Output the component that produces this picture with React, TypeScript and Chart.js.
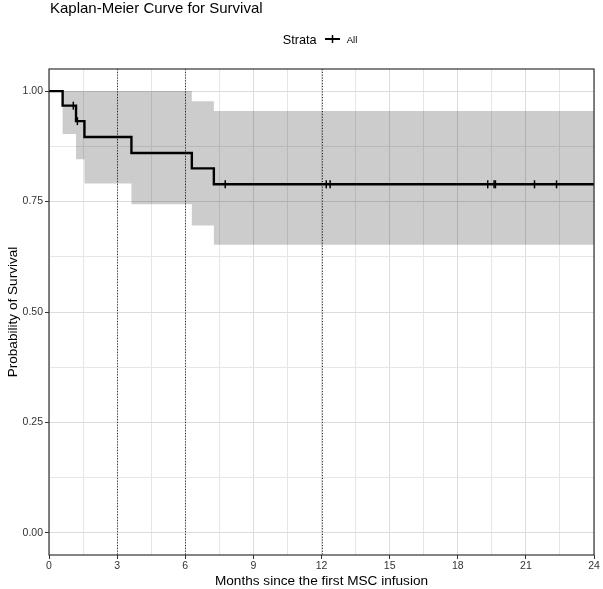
import React, { useEffect, useRef } from 'react';
import { Chart, registerables } from 'chart.js';

Chart.register(...registerables);

// ---- data ----
const stepTimes = [0, 0.6, 1.19, 1.56, 3.63, 6.29, 7.26, 24];
const survival = [1, 0.967, 0.932, 0.896, 0.86, 0.825, 0.789, 0.789];
const upperCI = [1, 1, 1, 1, 1, 0.977, 0.955, 0.955];
const lowerCI = [1, 0.903, 0.846, 0.791, 0.744, 0.696, 0.652, 0.652];
const censorTimes = [1.07, 1.25, 7.76, 12.21, 12.38, 19.32, 19.6, 19.66, 21.38, 22.35];
const xTickLabels = [0, 3, 6, 9, 12, 15, 18, 21, 24];
const yTickLabels = [0, 0.25, 0.5, 0.75, 1];
const refLines = [3, 6, 12];
const chartTitle = 'Kaplan-Meier Curve for Survival';
const xTitle = 'Months since the first MSC infusion';
const yTitle = 'Probability of Survival';
const legendTitle = 'Strata';
const legendLabel = 'All';

const FONT = '"Liberation Sans", Arial, Helvetica, sans-serif';
const MAJOR = '#dcdcdc';
const MINOR = '#e6e6e6';

function withMinors(majors: number[]) {
  const out: number[] = [];
  majors.forEach((v, i) => {
    out.push(v);
    if (i < majors.length - 1) out.push((v + majors[i + 1]) / 2);
  });
  return out;
}
const xAll = withMinors(xTickLabels);
const yAll = withMinors(yTickLabels);

function survAt(t: number) {
  let s = survival[0];
  for (let i = 0; i < stepTimes.length; i++) if (stepTimes[i] <= t) s = survival[i];
  return s;
}

const pts = (ys: number[]) => stepTimes.map((t, i) => ({ x: t, y: ys[i] }));

const decor = {
  id: 'decor',
  beforeDatasetsDraw(chart: any) {
    const { ctx, chartArea: a, scales } = chart;
    ctx.save();
    ctx.strokeStyle = '#333';
    ctx.lineWidth = 1;
    ctx.setLineDash([1.2, 1.6]);
    refLines.forEach((t) => {
      const px = Math.round(scales.x.getPixelForValue(t)) + 0.5;
      ctx.beginPath();
      ctx.moveTo(px, a.top);
      ctx.lineTo(px, a.bottom);
      ctx.stroke();
    });
    ctx.restore();
  },
  afterDraw(chart: any) {
    const { ctx, chartArea: a } = chart;
    ctx.save();
    // panel border
    ctx.strokeStyle = '#333';
    ctx.lineWidth = 1.2;
    ctx.strokeRect(a.left, a.top, a.right - a.left, a.bottom - a.top);
    // title
    ctx.fillStyle = '#000';
    ctx.textBaseline = 'alphabetic';
    ctx.textAlign = 'left';
    ctx.font = `15px ${FONT}`;
    ctx.fillText(chartTitle, 50, 12.5);
    // legend
    ctx.font = `12.7px ${FONT}`;
    ctx.fillText(legendTitle, 282.7, 43.5);
    ctx.strokeStyle = '#000';
    ctx.lineWidth = 2;
    ctx.beginPath();
    ctx.moveTo(325, 39);
    ctx.lineTo(340, 39);
    ctx.stroke();
    ctx.lineWidth = 1.5;
    ctx.beginPath();
    ctx.moveTo(332.5, 35);
    ctx.lineTo(332.5, 43);
    ctx.stroke();
    ctx.font = `9.5px ${FONT}`;
    ctx.fillText(legendLabel, 346.7, 42.5);
    ctx.restore();
  },
};

export default function App() {
  const ref = useRef<HTMLCanvasElement>(null);
  useEffect(() => {
    if (!ref.current) return;
    const chart = new Chart(ref.current, {
      type: 'line',
      data: {
        datasets: [
          {
            label: 'censor',
            data: censorTimes.map((t) => ({ x: t, y: survAt(t) })),
            showLine: false,
            pointStyle: 'line',
            rotation: 90,
            pointRadius: 4,
            pointBorderWidth: 1.5,
            pointBorderColor: '#000',
            pointBackgroundColor: '#000',
          } as any,
          {
            label: 'All',
            data: pts(survival),
            stepped: 'before',
            borderColor: '#000',
            borderWidth: 2.4,
            pointRadius: 0,
            fill: false,
          } as any,
          {
            label: 'upper',
            data: pts(upperCI),
            stepped: 'before',
            borderWidth: 0,
            borderColor: 'rgba(0,0,0,0)',
            backgroundColor: 'rgba(0,0,0,0.2)',
            pointRadius: 0,
            fill: '+1',
          } as any,
          {
            label: 'lower',
            data: pts(lowerCI),
            stepped: 'before',
            borderWidth: 0,
            borderColor: 'rgba(0,0,0,0)',
            pointRadius: 0,
            fill: false,
          } as any,
        ],
      },
      options: {
        animation: false,
        responsive: false,
        devicePixelRatio: 1,
        layout: { padding: { top: 69, right: 9, left: 0, bottom: 0 } },
        plugins: {
          legend: { display: false },
          tooltip: { enabled: false },
          title: { display: false },
        },
        scales: {
          x: {
            type: 'linear',
            min: 0,
            max: 24,
            afterBuildTicks: (s: any) => {
              s.ticks = xAll.map((v) => ({ value: v }));
            },
            afterFit: (s: any) => {
              s.height = 34;
            },
            ticks: {
              autoSkip: false,
              maxRotation: 0,
              padding: 1,
              color: '#333',
              font: { family: FONT, size: 10.5 },
              callback: (v: any) => (xTickLabels.includes(v) ? String(v) : ''),
            },
            grid: {
              color: (c: any) => (xTickLabels.includes(c.tick?.value) ? MAJOR : MINOR),
              lineWidth: 1,
              tickLength: 4,
              tickColor: (c: any) => (xTickLabels.includes(c.tick?.value) ? '#333' : 'rgba(0,0,0,0)'),
            },
            border: { display: false },
            title: {
              display: true,
              text: xTitle,
              color: '#000',
              font: { family: FONT, size: 13.6, lineHeight: 1.1 },
              padding: { top: 0, bottom: 0 },
            },
          },
          y: {
            type: 'linear',
            min: -0.05,
            max: 1.05,
            afterBuildTicks: (s: any) => {
              s.ticks = yAll.map((v) => ({ value: v }));
            },
            afterFit: (s: any) => {
              s.width = 49;
            },
            ticks: {
              autoSkip: false,
              padding: 2,
              color: '#333',
              font: { family: FONT, size: 10.5 },
              callback: (v: any) => (yTickLabels.includes(v) ? Number(v).toFixed(2) : ''),
            },
            grid: {
              color: (c: any) => (yTickLabels.includes(c.tick?.value) ? MAJOR : MINOR),
              lineWidth: 1,
              tickLength: 4,
              tickColor: (c: any) => (yTickLabels.includes(c.tick?.value) ? '#333' : 'rgba(0,0,0,0)'),
            },
            border: { display: false },
            title: {
              display: true,
              text: yTitle,
              color: '#000',
              font: { family: FONT, size: 13.6, lineHeight: 1.2 },
              padding: { top: 5, bottom: 0 },
            },
          },
        },
      } as any,
      plugins: [decor],
    });
    return () => chart.destroy();
  }, []);
  return (
    <div style={{ position: 'absolute', left: 0, top: 0, width: 603, height: 589, background: '#fff' }}>
      <canvas ref={ref} width={603} height={589} style={{ display: 'block' }} />
    </div>
  );
}
